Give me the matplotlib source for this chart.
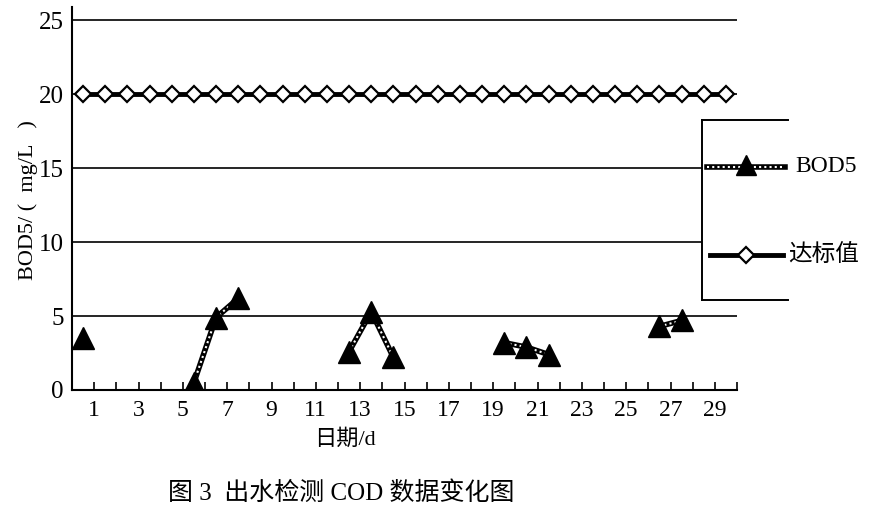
import numpy as np
import matplotlib
matplotlib.use("Agg")
from matplotlib import pyplot as plt
from matplotlib.lines import Line2D
from matplotlib.patches import Rectangle

plt.rcParams['font.family'] = ['Liberation Serif', 'Noto Sans CJK SC']

days = np.arange(1, 31)
bod5 = [3.5, np.nan, np.nan, np.nan, np.nan, 0.5, 4.9, 6.2, np.nan, np.nan,
        np.nan, np.nan, 2.6, 5.3, 2.2, np.nan, np.nan, np.nan, np.nan, 3.2,
        2.9, 2.4, np.nan, np.nan, np.nan, np.nan, 4.3, 4.7, np.nan, np.nan]
standard = [20] * 30
y_ticks = [0, 5, 10, 15, 20, 25]

W, H = 886, 521


def fx(px):
    return px / W


def fy(py):
    return 1 - py / H


fig = plt.figure(figsize=(8.86, 5.21), dpi=100)
ax = fig.add_axes([fx(72), fy(390), (737 - 72) / W, (390 - 7) / H])

x = days - 0.5
for yv in y_ticks[1:]:
    ax.axhline(yv, color='black', lw=1.2, zorder=1)

ax.plot(x, standard, color='black', lw=3.5, marker='D', markersize=8,
        markerfacecolor='white', markeredgecolor='black', markeredgewidth=1.6, zorder=3)
ax.plot(x, bod5, color='black', lw=4, zorder=3)
ax.plot(x, bod5, color='white', lw=1.5, ls=(0, (1, 1.5)), zorder=4)
ax.plot(x, bod5, ls='none', marker='^', markersize=16, color='black', zorder=5)

ax.set_xlim(0, 30)
ax.set_ylim(0, 25.9)
ax.set_yticks(y_ticks)
ax.set_xticks(range(1, 31))
ax.set_xticklabels([str(d) if d % 2 == 1 else '' for d in range(1, 31)])
ax.tick_params(axis='x', direction='in', length=6, width=1.2, labelsize=17, pad=7)
ax.tick_params(axis='y', length=0, labelsize=18, pad=6)
for s in ['top', 'right']:
    ax.spines[s].set_visible(False)
for s in ['left', 'bottom']:
    ax.spines[s].set_linewidth(1.5)

fig.text(fx(28), fy(200), 'BOD5/ (  mg/L   )', fontsize=16, rotation=90,
         ha='center', va='center')
fig.text(fx(345), fy(440), '日期/d', fontsize=16, ha='center', va='center')
fig.text(fx(341), fy(493), '图 3  出水检测 COD 数据变化图', fontsize=18,
         ha='center', va='center')

# legend box, open on the right
fig.add_artist(Rectangle((fx(702), fy(300)), fx(886 - 702), (300 - 120) / H,
                         transform=fig.transFigure, facecolor='white', edgecolor='none', zorder=6))
for seg in [([702, 788], [120, 120]), ([702, 788], [300, 300]), ([702, 702], [120, 300])]:
    fig.add_artist(Line2D([fx(p) for p in seg[0]], [fy(p) for p in seg[1]],
                          transform=fig.transFigure, color='black', lw=1.4, zorder=7))

fig.add_artist(Line2D([fx(707), fx(785)], [fy(167), fy(167)], transform=fig.transFigure,
                      color='black', lw=4, zorder=7))
fig.add_artist(Line2D([fx(707), fx(785)], [fy(167), fy(167)], transform=fig.transFigure,
                      color='white', lw=1.5, ls=(0, (1, 1.5)), zorder=8))
fig.add_artist(Line2D([fx(746)], [fy(165)], transform=fig.transFigure, ls='none',
                      marker='^', markersize=14, color='black', zorder=9))
fig.text(fx(795), fy(167), 'BOD5', fontsize=17, ha='left', va='center', zorder=9)

fig.add_artist(Line2D([fx(710), fx(783)], [fy(255), fy(255)], transform=fig.transFigure,
                      color='black', lw=3.5, zorder=7))
fig.add_artist(Line2D([fx(746)], [fy(255)], transform=fig.transFigure, ls='none',
                      marker='D', markersize=8, markerfacecolor='white',
                      markeredgecolor='black', markeredgewidth=1.6, zorder=9))
fig.text(fx(788), fy(256), '达标值', fontsize=17, ha='left', va='center', zorder=9)

fig.savefig('out.png', dpi=100)
